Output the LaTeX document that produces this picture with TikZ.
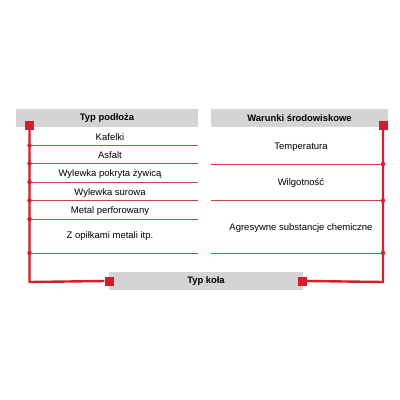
\documentclass[tikz,border=0pt]{standalone}
\usepackage{fontspec}
\setmainfont{Liberation Sans}
\definecolor{kred}{HTML}{D21F2E}
\definecolor{kgray}{HTML}{D4D4D4}
\definecolor{sepred}{HTML}{C8404A}
\begin{document}
\begin{tikzpicture}[x=1pt,y=-1pt,
  hdr/.style={fill=kgray,inner sep=0pt,font=\fontsize{9.4}{10}\selectfont\bfseries},
  sq/.style={fill=kred,minimum size=9pt,inner sep=0pt},
  lab/.style={font=\fontsize{9.5}{10}\selectfont,inner sep=0pt},
  sep/.style={draw=sepred,line width=0.6pt},
  bus/.style={draw=kred,line width=2.4pt},
  dot/.style={circle,fill=kred,inner sep=0pt,minimum size=4.5pt}]
\useasboundingbox (0,0) rectangle (400,400);
% headers
\node[hdr,minimum width=182pt,minimum height=18pt] (hL) at (107,118) {Typ podłoża};
\node[hdr,minimum width=177pt,minimum height=18pt] (hR) at (299.5,118) {Warunki środowiskowe};
\node[hdr,minimum width=194pt,minimum height=18pt] (hB) at (206,281) {Typ koła};
% squares
\node[sq] (sL) at (29.5,125.5) {};
\node[sq] (sR) at (383,125.5) {};
\node[sq] (sBL) at (109,281) {};
\node[sq] (sBR) at (302.5,281) {};
% corners
\coordinate (cL) at (29.5,282);
\coordinate (cR) at (383,282);
% separator coordinates
\foreach \i/\y in {1/145.5,2/163.5,3/182,4/200.5,5/219,6/253}{
  \coordinate (lA\i) at (29.5,\y);
  \coordinate (lB\i) at (198,\y);
}
\foreach \i/\y in {1/164,2/200.5,3/253}{
  \coordinate (rA\i) at (211,\y);
  \coordinate (rB\i) at (383,\y);
}
\foreach \i in {1,...,6}{\draw[sep] (lA\i) -- (lB\i);}
\foreach \i in {1,2,3}{\draw[sep] (rA\i) -- (rB\i);}
% bus lines
\draw[bus] (sL.center) -- (cL) -- (sBL.west);
\draw[bus] (sR.center) -- (cR) -- (sBR.east);
\node[sq] at (sL) {};
\node[sq] at (sR) {};
\foreach \i in {1,...,6}{\node[dot] (ld\i) at (lA\i) {};}
\foreach \i in {1,2,3}{\node[dot] (rd\i) at (rB\i) {};}
% labels
\node[lab] (t1) at (110,137.5) {Kafelki};
\node[lab] (t2) at (110,155) {Asfalt};
\node[lab] (t3) at (110,174.5) {Wylewka pokryta żywicą};
\node[lab] (t4) at (110,193) {Wylewka surowa};
\node[lab] (t5) at (110,211) {Metal perforowany};
\node[lab] (t6) at (110,236.5) {Z opiłkami metali itp.};
\node[lab] (u1) at (301,147.5) {Temperatura};
\node[lab] (u2) at (301,183) {Wilgotność};
\node[lab] (u3) at (301,228) {Agresywne substancje chemiczne};
\end{tikzpicture}
\end{document}
